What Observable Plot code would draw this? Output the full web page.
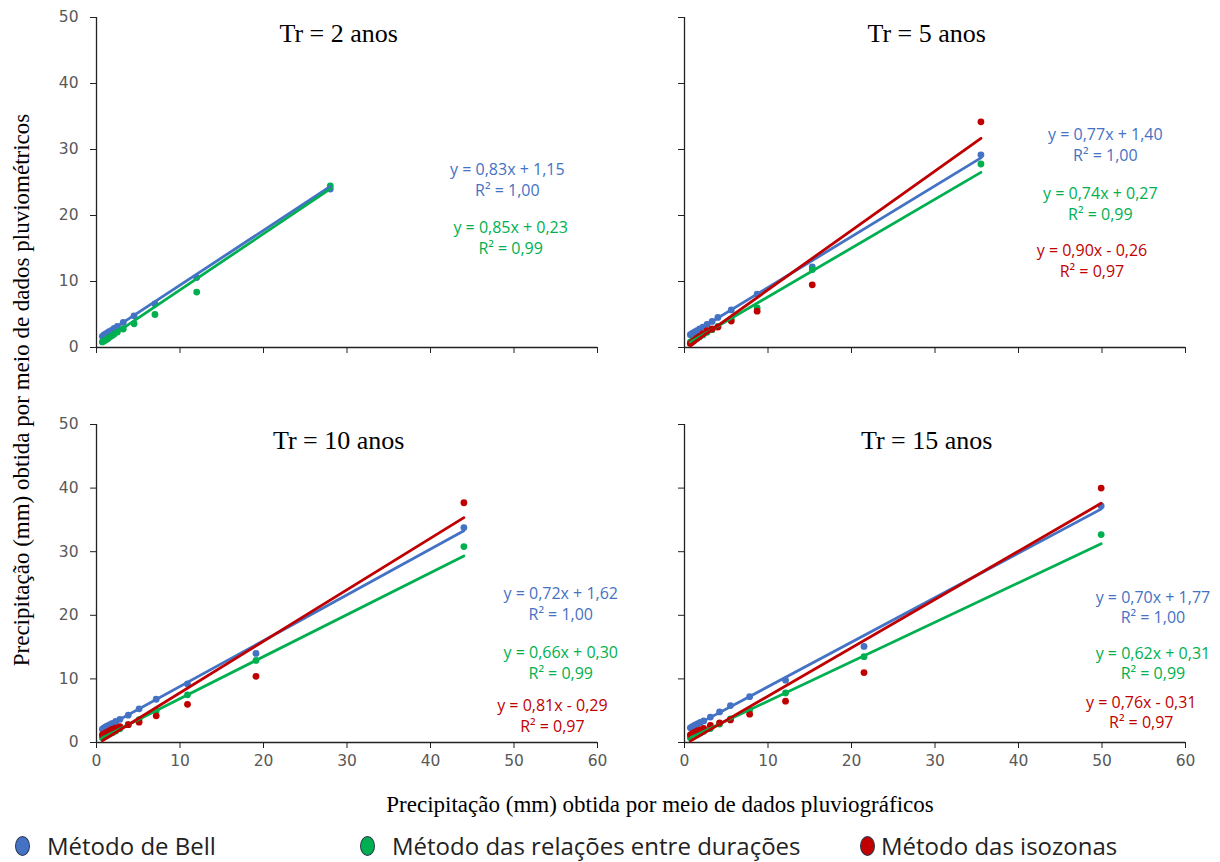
<!DOCTYPE html>
<html>
<head>
<meta charset="utf-8">
<script src="https://cdn.jsdelivr.net/npm/d3@7"></script>
<script src="https://cdn.jsdelivr.net/npm/@observablehq/plot@0.6"></script>
<style>
  html, body { margin: 0; padding: 0; background: #fff; }
  #root { position: relative; width: 1220px; height: 862px; overflow: hidden; background: #fff; }
  .panel { position: absolute; }
  .axlabel { position: absolute; font-family: "Liberation Serif", "DejaVu Serif", serif; font-size: 23px; color: #000; white-space: nowrap; text-align: center; line-height: 24px; }
  .legend { position: absolute; top: 829px; left: 0; width: 1220px; height: 34px; font-family: "Open Sans", sans-serif; font-size: 24px; color: #222; }
  .legend .item { position: absolute; top: 0; display: flex; align-items: center; white-space: nowrap; }
  .legend .sw { display: inline-block; width: 13px; height: 18px; border-radius: 50%; border: 1.5px solid #2b3a55; }
</style>
</head>
<body>
<div id="root"></div>
<script>
// ---------------- DATA ----------------
const methods = ["Método de Bell", "Método das relações entre durações", "Método das isozonas"];
const methodColors = ["#4472C4", "#00B050", "#C00000"];
const yTicks = [0, 10, 20, 30, 40, 50];
const xTicks = [0, 10, 20, 30, 40, 50, 60];

// Tr = 2 anos
const tr2X    = [0.7, 0.9, 1.1, 1.3, 1.5, 1.8, 2.1, 2.5, 3.2, 4.5, 7.0, 12.0, 28.0];
const tr2Bell = [1.7, 1.9, 2.05, 2.2, 2.4, 2.6, 2.9, 3.2, 3.8, 4.8, 6.6, 10.6, 24.0];
const tr2Rel  = [0.85, 1.0, 1.15, 1.3, 1.5, 1.75, 2.0, 2.35, 2.8, 3.6, 5.0, 8.4, 24.5];
const tr2Slope = [0.83, 0.85];
const tr2Intercept = [1.15, 0.23];
const tr2R2 = [1.00, 0.99];

// Tr = 5 anos
const tr5X    = [0.7, 0.9, 1.1, 1.3, 1.5, 1.8, 2.2, 2.7, 3.3, 4.0, 5.6, 8.7, 15.3, 35.5];
const tr5Bell = [1.95, 2.1, 2.25, 2.4, 2.55, 2.8, 3.1, 3.5, 3.95, 4.55, 5.7, 8.1, 12.2, 29.2];
const tr5Rel  = [0.8, 0.95, 1.1, 1.25, 1.4, 1.6, 1.9, 2.3, 2.7, 3.2, 4.3, 6.0, 11.8, 27.8];
const tr5Iso  = [0.6, 0.8, 1.0, 1.2, 1.4, 1.7, 2.1, 2.55, 2.8, 3.1, 4.0, 5.5, 9.5, 34.2];
const tr5Slope = [0.77, 0.74, 0.90];
const tr5Intercept = [1.40, 0.27, -0.26];
const tr5R2 = [1.00, 0.99, 0.97];

// Tr = 10 anos
const tr10X    = [0.7, 0.9, 1.1, 1.3, 1.6, 1.9, 2.3, 2.8, 3.8, 5.1, 7.15, 10.9, 19.1, 44.0];
const tr10Bell = [2.1, 2.3, 2.45, 2.6, 2.8, 3.0, 3.3, 3.65, 4.3, 5.3, 6.8, 9.2, 14.0, 33.8];
const tr10Rel  = [0.75, 0.9, 1.05, 1.15, 1.35, 1.55, 1.8, 2.15, 2.8, 3.6, 5.0, 7.5, 12.9, 30.8];
const tr10Iso  = [1.2, 1.4, 1.55, 1.7, 1.9, 2.1, 2.3, 2.5, 2.8, 3.2, 4.2, 6.0, 10.4, 37.7];
const tr10Slope = [0.72, 0.66, 0.81];
const tr10Intercept = [1.62, 0.30, -0.29];
const tr10R2 = [1.00, 0.99, 0.97];

// Tr = 15 anos
const tr15X    = [0.7, 0.9, 1.1, 1.3, 1.6, 1.9, 2.3, 3.1, 4.2, 5.5, 7.8, 12.1, 21.5, 49.9];
const tr15Bell = [2.3, 2.45, 2.6, 2.75, 2.95, 3.15, 3.4, 4.0, 4.8, 5.8, 7.2, 9.8, 15.1, 37.2];
const tr15Rel  = [0.75, 0.85, 1.0, 1.1, 1.3, 1.5, 1.75, 2.2, 2.9, 3.7, 5.1, 7.8, 13.5, 32.7];
const tr15Iso  = [1.2, 1.35, 1.5, 1.65, 1.85, 2.0, 2.2, 2.7, 3.1, 3.55, 4.45, 6.5, 11.0, 40.0];
const tr15Slope = [0.70, 0.62, 0.76];
const tr15Intercept = [1.77, 0.31, -0.31];
const tr15R2 = [1.00, 0.99, 0.97];

const titles = ["Tr = 2 anos", "Tr = 5 anos", "Tr = 10 anos", "Tr = 15 anos"];
const yAxisTitle = "Precipitação (mm) obtida por meio de dados pluviométricos";
const xAxisTitle = "Precipitação (mm) obtida por meio de dados pluviográficos";

// ---------------- BUILD ----------------
const fmt = v => Math.abs(v).toFixed(2).replace(".", ",");
function eqText(a, b, r2) {
  return `y = ${fmt(a)}x ${b < 0 ? "-" : "+"} ${fmt(b)}\nR² = ${fmt(r2)}`;
}

const panels = [
  {title: titles[0], x: tr2X, ys: [tr2Bell, tr2Rel], slope: tr2Slope, icpt: tr2Intercept, r2: tr2R2},
  {title: titles[1], x: tr5X, ys: [tr5Bell, tr5Rel, tr5Iso], slope: tr5Slope, icpt: tr5Intercept, r2: tr5R2},
  {title: titles[2], x: tr10X, ys: [tr10Bell, tr10Rel, tr10Iso], slope: tr10Slope, icpt: tr10Intercept, r2: tr10R2},
  {title: titles[3], x: tr15X, ys: [tr15Bell, tr15Rel, tr15Iso], slope: tr15Slope, icpt: tr15Intercept, r2: tr15R2}
];

// layout (pixels) and annotation anchors (data units)
const layout = [
  {left: 0,   top: 0,   width: 650, height: 362, mt: 17, mb: 15, ml: 96,  xLabels: false, yLabels: true,
   eq: [[49.2, 25.5], [49.6, 16.8]]},
  {left: 588, top: 0,   width: 632, height: 362, mt: 17, mb: 15, ml: 96,  xLabels: false, yLabels: false,
   eq: [[50.4, 30.9], [49.8, 21.9], [48.8, 13.25]]},
  {left: 0,   top: 400, width: 650, height: 380, mt: 24, mb: 38, ml: 96,  xLabels: true, yLabels: true,
   eq: [[55.6, 21.9], [55.6, 12.66], [54.6, 4.4]]},
  {left: 588, top: 400, width: 632, height: 380, mt: 24, mb: 38, ml: 96,  xLabels: true, yLabels: false,
   eq: [[56.1, 21.4], [56.1, 12.6], [54.7, 4.9]]}
];
const frameWidth = 501;

const root = document.getElementById("root");

panels.forEach((p, i) => {
  const L = layout[i];
  const pts = [];
  p.ys.forEach((ys, k) => ys.forEach((y, j) => pts.push({x: p.x[j], y, method: methods[k]})));
  const xmin = d3.min(p.x), xmax = d3.max(p.x);
  const fitLines = [];
  p.slope.forEach((a, k) => {
    [xmin, xmax].forEach(x => fitLines.push({x, y: a * x + p.icpt[k], method: methods[k]}));
  });
  const eqs = p.slope.map((a, k) => ({
    x: L.eq[k][0], y: L.eq[k][1], text: eqText(a, p.icpt[k], p.r2[k]), method: methods[k]
  }));

  const chart = Plot.plot({
    width: L.width,
    height: L.height,
    marginLeft: L.ml,
    marginRight: L.width - L.ml - frameWidth,
    marginTop: L.mt,
    marginBottom: L.mb,
    style: {background: "transparent", overflow: "visible", fontFamily: "DejaVu Sans, sans-serif"},
    x: {domain: [0, 60], axis: null},
    y: {domain: [0, 50], axis: null},
    color: {domain: methods, range: methodColors},
    marks: [
      Plot.axisY(yTicks, {
        tickSize: 6, tickPadding: 12, fontSize: 15.5, stroke: "#222", fill: "#595959",
        tickFormat: L.yLabels ? d => String(d) : () => "", label: null
      }),
      Plot.axisX(xTicks, {
        tickSize: 6, tickPadding: 6, fontSize: 15.5, stroke: "#222", fill: "#595959",
        tickFormat: L.xLabels ? d => String(d) : () => "", label: null
      }),
      Plot.ruleX([0], {stroke: "#222", strokeWidth: 1.3}),
      Plot.ruleY([0], {stroke: "#222", strokeWidth: 1.3}),
      Plot.dot(pts, {x: "x", y: "y", fill: "method", r: 3.4, stroke: "none"}),
      Plot.line(fitLines, {x: "x", y: "y", stroke: "method", z: "method", strokeWidth: 2.8}),
      Plot.text(eqs, {
        x: "x", y: "y", text: "text", fill: "method", fontSize: 16, lineHeight: 1.3,
        fontFamily: "Open Sans, sans-serif", textAnchor: "middle", lineAnchor: "middle"
      }),
      Plot.text([p.title], {
        x: 29, frameAnchor: "top", dy: 16, text: d => d, fontSize: 26, fontWeight: "normal",
        fontFamily: "Liberation Serif, serif", fill: "#000", lineAnchor: "middle"
      })
    ]
  });
  chart.classList.add("panel");
  chart.style.left = L.left + "px";
  chart.style.top = L.top + "px";
  chart.style.maxWidth = "none";
  root.appendChild(chart);
});

// axis titles
const yl = document.createElement("div");
yl.className = "axlabel";
yl.textContent = yAxisTitle;
yl.style.width = "760px";
yl.style.left = (22 - 380) + "px";
yl.style.top = (390 - 12) + "px";
yl.style.transform = "rotate(-90deg)";
root.appendChild(yl);

const xl = document.createElement("div");
xl.className = "axlabel";
xl.textContent = xAxisTitle;
xl.style.width = "760px";
xl.style.left = (660 - 380) + "px";
xl.style.top = (805 - 12) + "px";
root.appendChild(xl);

// legend
const legend = document.createElement("div");
legend.className = "legend";
const legendX = [15, 360, 860];
const legendGap = [17, 17, 6];
methods.forEach((m, k) => {
  const it = document.createElement("div");
  it.className = "item";
  it.style.left = legendX[k] + "px";
  const sw = document.createElement("span");
  sw.className = "sw";
  sw.style.background = methodColors[k];
  sw.style.marginRight = legendGap[k] + "px";
  it.appendChild(sw);
  const t = document.createElement("span");
  t.textContent = m;
  it.appendChild(t);
  legend.appendChild(it);
});
root.appendChild(legend);
</script>
</body>
</html>
